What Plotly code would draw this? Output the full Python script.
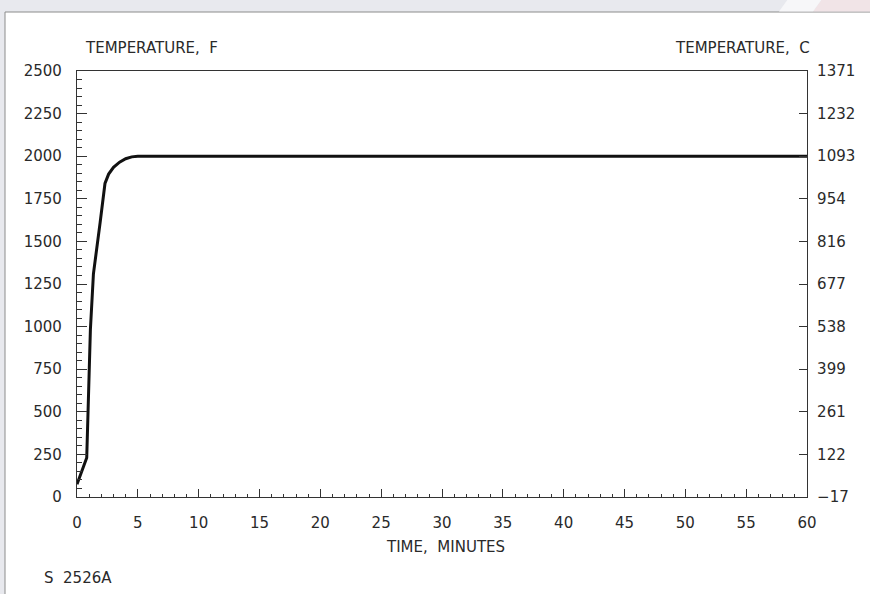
import plotly.graph_objects as go

# ---- data ----
time_min = [0, 0.8, 1.1, 1.35, 1.9, 2.3, 2.6, 3.0, 3.5, 4.0, 4.5, 5.0, 6, 10, 20, 30, 40, 50, 60]
temp_f = [75, 230, 980, 1310, 1610, 1840, 1895, 1935, 1965, 1985, 1996, 2000, 2000, 2000, 2000, 2000, 2000, 2000, 2000]
f_ticks = [0, 250, 500, 750, 1000, 1250, 1500, 1750, 2000, 2250, 2500]
c_labels = ["\u221217", "122", "261", "399", "538", "677", "816", "954", "1093", "1232", "1371"]
x_ticks = [0, 5, 10, 15, 20, 25, 30, 35, 40, 45, 50, 55, 60]

W, H = 870, 594
L, R, T, B = 77, 807, 71, 497
def px(p):
    return (p - L) / (R - L)
def py(q):
    return (B - q) / (B - T)

FONT = "DejaVu Sans"
TXT = "#2a2a2a"

fig = go.Figure()
fig.add_trace(go.Scatter(x=time_min, y=temp_f, mode="lines",
                         line=dict(color="#111111", width=3), showlegend=False))
# invisible trace for right axis
fig.add_trace(go.Scatter(x=[0], y=[0], yaxis="y2", mode="markers",
                         marker=dict(opacity=0), showlegend=False, hoverinfo="skip"))

axis_common = dict(showgrid=False, zeroline=False, showline=True, linecolor="#333333",
                   linewidth=1.2, tickcolor="#333333", ticks="inside",
                   tickfont=dict(family=FONT, size=15, color=TXT))

fig.update_layout(
    width=W, height=H,
    margin=dict(l=L, r=W - R, t=T, b=H - B),
    paper_bgcolor="#e8e9ee",
    plot_bgcolor="rgba(0,0,0,0)",
    xaxis=dict(range=[0, 60], tickvals=x_ticks, ticklen=8, tickwidth=1.2, mirror=True,
               minor=dict(dtick=1, ticklen=3, tickcolor="#333333", ticks="inside"),
               ticklabelstandoff=12, **axis_common),
    yaxis=dict(range=[0, 2500], tickvals=f_ticks, ticklen=10, tickwidth=1.2, mirror=True,
               minor=dict(dtick=50, ticklen=5, tickcolor="#333333", ticks="inside"),
               ticklabelstandoff=11, **axis_common),
    yaxis2=dict(range=[0, 2500], overlaying="y", side="right", tickvals=f_ticks,
                ticktext=c_labels, ticklen=8, tickwidth=1.2, ticklabelstandoff=6,
                **axis_common),
    shapes=[
        # white paper sheet
        dict(type="rect", xref="paper", yref="paper", layer="below",
             x0=px(5), x1=px(875), y0=py(12), y1=py(600),
             fillcolor="white", line=dict(color="#8c8c8c", width=1)),
        # decorative faint stripes top right
        dict(type="path", xref="paper", yref="paper", layer="below",
             path=f"M {px(822)},{py(-1)} L {px(871)},{py(-1)} L {px(871)},{py(11.5)} L {px(813)},{py(11.5)} Z",
             fillcolor="#f1e4e7", line=dict(width=0)),
        dict(type="path", xref="paper", yref="paper", layer="below",
             path=f"M {px(788)},{py(-1)} L {px(822)},{py(-1)} L {px(813)},{py(11.5)} L {px(779)},{py(11.5)} Z",
             fillcolor="#f7f7f9", line=dict(width=0)),
    ],
    annotations=[
        dict(text="TEMPERATURE,  F", xref="paper", yref="paper", x=px(83), y=py(48),
             xanchor="left", yanchor="middle", showarrow=False,
             font=dict(family=FONT, size=15, color=TXT)),
        dict(text="TEMPERATURE,  C", xref="paper", yref="paper", x=px(812), y=py(48),
             xanchor="right", yanchor="middle", showarrow=False,
             font=dict(family=FONT, size=15, color=TXT)),
        dict(text="TIME,  MINUTES", xref="paper", yref="paper", x=px(445), y=py(547),
             xanchor="center", yanchor="middle", showarrow=False,
             font=dict(family=FONT, size=15, color=TXT)),
        dict(text="S  2526A", xref="paper", yref="paper", x=px(42), y=py(578),
             xanchor="left", yanchor="middle", showarrow=False,
             font=dict(family=FONT, size=15, color=TXT)),
    ],
)

fig.write_html("out.html", config={"displayModeBar": False},
               post_script="document.body.style.margin='0';document.body.style.background='#e8e9ee';")
